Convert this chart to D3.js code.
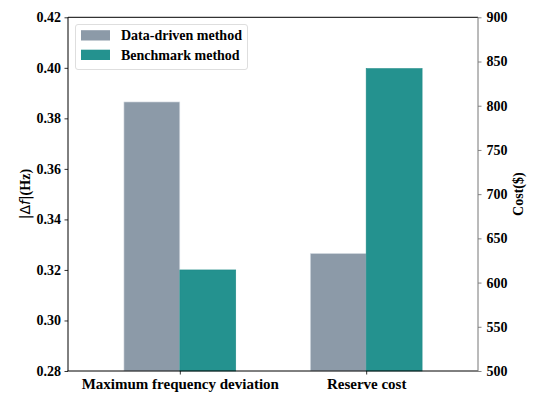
<!DOCTYPE html>
<html>
<head>
<meta charset="utf-8">
<script src="https://cdn.jsdelivr.net/npm/d3@7"></script>
<style>
  html, body { margin: 0; padding: 0; background: #fff; }
  svg { display: block; }
</style>
</head>
<body>
<script>
// Categories and series
const categories = ["Maximum frequency deviation", "Reserve cost"];
const seriesNames = ["Data-driven method", "Benchmark method"];
const seriesColors = ["#8c9aa8", "#24928f"];
// Frequency deviation |Δf| (Hz), left axis
const freqDeviation = [0.3865, 0.3200];
// Reserve cost ($), right axis
const reserveCost = [633, 842];
const leftTicks = [0.28, 0.30, 0.32, 0.34, 0.36, 0.38, 0.40, 0.42];
const rightTicks = [500, 550, 600, 650, 700, 750, 800, 850, 900];

const SERIF = "'Liberation Serif', 'Times New Roman', Times, serif";
const W = 536, H = 394;
const m = { left: 68, right: 478, top: 17.3, bottom: 371 };

const svg = d3.select("body").append("svg").attr("width", W).attr("height", H)
  .style("font-family", SERIF).style("font-weight", "bold");

const x = d3.scaleLinear().domain([-0.6, 1.6]).range([m.left, m.right]);
const yL = d3.scaleLinear().domain([0.28, 0.42]).range([m.bottom, m.top]);
const yR = d3.scaleLinear().domain([500, 900]).range([m.bottom, m.top]);
const barW = 0.3;

// bars: first category on left axis, second on right axis
const bars = [
  { cat: 0, s: 0, v: freqDeviation[0], y: yL },
  { cat: 0, s: 1, v: freqDeviation[1], y: yL },
  { cat: 1, s: 0, v: reserveCost[0], y: yR },
  { cat: 1, s: 1, v: reserveCost[1], y: yR }
];

svg.append("g").selectAll("rect").data(bars).join("rect")
  .attr("x", d => x(d.cat + (d.s === 0 ? -barW : 0)))
  .attr("width", d => x(barW) - x(0))
  .attr("y", d => d.y(d.v))
  .attr("height", d => m.bottom - d.y(d.v))
  .attr("fill", d => seriesColors[d.s])
  .attr("stroke", d => d.s === 0 ? "#dde3e8" : "#1f8a87")
  .attr("stroke-width", 0.6);

// axes
const gL = svg.append("g").attr("transform", `translate(${m.left},0)`)
  .call(d3.axisLeft(yL).tickValues(leftTicks).tickFormat(d3.format(".2f")).tickSize(3.5).tickPadding(3.5));
const gR = svg.append("g").attr("transform", `translate(${m.right},0)`)
  .call(d3.axisRight(yR).tickValues(rightTicks).tickFormat(d3.format("d")).tickSize(3.5).tickPadding(5));
const gB = svg.append("g").attr("transform", `translate(0,${m.bottom})`)
  .call(d3.axisBottom(x).tickValues([0, 1]).tickFormat((d, i) => categories[i]).tickSize(3.5).tickPadding(4));

[[gL, "14px"], [gR, "14px"], [gB, "15px"]].forEach(([g, fs]) => {
  g.attr("font-family", null).attr("font-size", null);
  g.selectAll("text").style("font-size", fs).style("font-family", SERIF).style("font-weight", "bold").attr("fill", "#000");
  g.selectAll("line").attr("stroke", "#000").attr("stroke-width", 0.8);
  g.select(".domain").remove();
});
gR.selectAll("line").attr("stroke", "#666");

// spines
svg.append("line").attr("x1", m.left).attr("x2", m.right).attr("y1", m.top).attr("y2", m.top).attr("stroke", "#000").attr("stroke-width", 1);
svg.append("line").attr("x1", m.left - 0.5).attr("x2", m.right).attr("y1", m.bottom).attr("y2", m.bottom).attr("stroke", "#000").attr("stroke-width", 1);
svg.append("line").attr("x1", m.left).attr("x2", m.left).attr("y1", m.top).attr("y2", m.bottom).attr("stroke", "#000").attr("stroke-width", 1);
svg.append("line").attr("x1", m.right).attr("x2", m.right).attr("y1", m.top).attr("y2", m.bottom).attr("stroke", "#777").attr("stroke-width", 1);

// left axis label |Δf|(Hz)
const yl = svg.append("text").attr("transform", `translate(29.5,${(m.top + m.bottom) / 2}) rotate(-90)`)
  .attr("text-anchor", "middle").style("font-size", "14px").style("font-family", SERIF);
yl.append("tspan").style("font-family", "'DejaVu Sans'").style("font-weight", "normal").text("|Δ");
yl.append("tspan").style("font-family", "'DejaVu Sans'").style("font-weight", "normal").style("font-style", "oblique").text("f");
yl.append("tspan").style("font-family", "'DejaVu Sans'").style("font-weight", "normal").text("|");
yl.append("tspan").style("font-family", SERIF).style("font-weight", "bold").text("(Hz)");

// right axis label
svg.append("text").attr("transform", `translate(522.5,${(m.top + m.bottom) / 2}) rotate(-90)`)
  .attr("text-anchor", "middle").style("font-size", "14px").style("font-family", SERIF).text("Cost($)");

// legend
const lg = svg.append("g");
lg.append("rect").attr("x", 75.5).attr("y", 24.5).attr("width", 172).attr("height", 45)
  .attr("rx", 2.5).attr("fill", "#fff").attr("fill-opacity", 0.8).attr("stroke", "#d5d5d5").attr("stroke-width", 0.8);
seriesNames.forEach((name, i) => {
  const yy = 30.2 + i * 19.5;
  lg.append("rect").attr("x", 81).attr("y", yy).attr("width", 29).attr("height", 10.3)
    .attr("fill", seriesColors[i]);
  lg.append("text").attr("x", 121).attr("y", yy + 10).style("font-size", "14px").style("font-family", SERIF).text(name);
});
</script>
</body>
</html>
